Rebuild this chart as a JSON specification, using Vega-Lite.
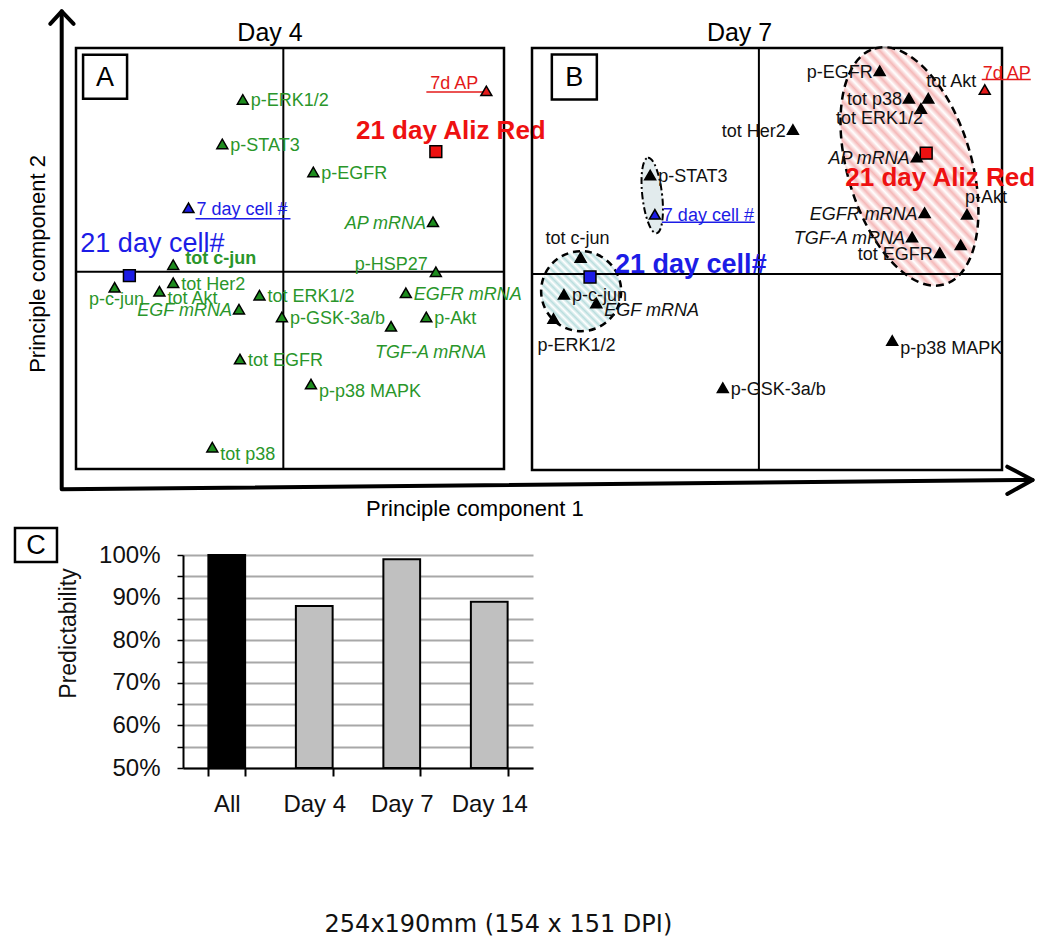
{
  "$schema": "https://vega.github.io/schema/vega-lite/v6.json",
  "background": "white",
  "padding": {"left": 9, "top": 8, "right": 5, "bottom": 5},
  "config": {"view": {"stroke": null}, "font": "Liberation Sans"},
  "title": {"text": "254x190mm (154 x 151 DPI)", "orient": "bottom", "anchor": "middle", "font": "DejaVu Sans", "fontSize": 24, "fontWeight": "normal", "color": "#111111", "offset": 97, "dx": -25},
  "datasets": {
    "day4": [
      {"label": "p-ERK1/2", "pc1": -0.85, "pc2": 2.21, "kind": "protein", "pos": "r"},
      {"label": "p-STAT3", "pc1": -1.28, "pc2": 1.64, "kind": "protein", "pos": "r"},
      {"label": "p-EGFR", "pc1": 0.63, "pc2": 1.28, "kind": "protein", "pos": "r"},
      {"label": "7 day cell #", "pc1": -1.99, "pc2": 0.82, "kind": "cell7", "pos": "r"},
      {"label": "AP mRNA", "pc1": 3.14, "pc2": 0.64, "kind": "mRNA", "pos": "l"},
      {"label": "7d AP", "pc1": 4.26, "pc2": 2.32, "kind": "ap7", "pos": "la"},
      {"label": "21 day Aliz Red", "pc1": 3.2, "pc2": 1.54, "kind": "aliz21", "pos": "big"},
      {"label": "21 day cell#", "pc1": -3.23, "pc2": -0.05, "kind": "cell21", "pos": "big"},
      {"label": "tot c-jun", "pc1": -2.31, "pc2": 0.09, "kind": "protein", "pos": "rb"},
      {"label": "tot Her2", "pc1": -2.31, "pc2": -0.14, "kind": "protein", "pos": "r"},
      {"label": "p-c-jun", "pc1": -3.54, "pc2": -0.2, "kind": "protein", "pos": "b"},
      {"label": "tot Akt", "pc1": -2.6, "pc2": -0.25, "kind": "protein", "pos": "br"},
      {"label": "EGF mRNA", "pc1": -0.93, "pc2": -0.48, "kind": "mRNA", "pos": "l"},
      {"label": "tot ERK1/2", "pc1": -0.5, "pc2": -0.3, "kind": "protein", "pos": "r"},
      {"label": "p-GSK-3a/b", "pc1": -0.03, "pc2": -0.58, "kind": "protein", "pos": "r"},
      {"label": "TGF-A mRNA", "pc1": 2.26, "pc2": -0.7, "kind": "mRNA", "pos": "bb"},
      {"label": "p-HSP27", "pc1": 3.2, "pc2": 0.0, "kind": "protein", "pos": "la"},
      {"label": "EGFR mRNA", "pc1": 2.57, "pc2": -0.27, "kind": "mRNA", "pos": "r"},
      {"label": "p-Akt", "pc1": 3.0, "pc2": -0.58, "kind": "protein", "pos": "r"},
      {"label": "tot EGFR", "pc1": -0.91, "pc2": -1.12, "kind": "protein", "pos": "r"},
      {"label": "p-p38 MAPK", "pc1": 0.58, "pc2": -1.44, "kind": "protein", "pos": "br"},
      {"label": "tot p38", "pc1": -1.49, "pc2": -2.25, "kind": "protein", "pos": "br"}
    ],
    "day7": [
      {"label": "p-EGFR", "pc1": 2.31, "pc2": 2.59, "kind": "protein", "pos": "l"},
      {"label": "7d AP", "pc1": 4.32, "pc2": 2.35, "kind": "ap7", "pos": "ar"},
      {"label": "tot Akt", "pc1": 3.24, "pc2": 2.24, "kind": "protein", "pos": "ar"},
      {"label": "tot p38", "pc1": 2.87, "pc2": 2.24, "kind": "protein", "pos": "l"},
      {"label": "tot ERK1/2", "pc1": 3.1, "pc2": 2.11, "kind": "protein", "pos": "bl"},
      {"label": "tot Her2", "pc1": 0.65, "pc2": 1.84, "kind": "protein", "pos": "l"},
      {"label": "AP mRNA", "pc1": 3.02, "pc2": 1.49, "kind": "mRNA", "pos": "l"},
      {"label": "21 day Aliz Red", "pc1": 3.2, "pc2": 1.54, "kind": "aliz21", "pos": "big"},
      {"label": "p-STAT3", "pc1": -2.08, "pc2": 1.26, "kind": "protein", "pos": "r"},
      {"label": "7 day cell #", "pc1": -1.99, "pc2": 0.76, "kind": "cell7", "pos": "r"},
      {"label": "p-Akt", "pc1": 3.98, "pc2": 0.76, "kind": "protein", "pos": "ar"},
      {"label": "EGFR mRNA", "pc1": 3.17, "pc2": 0.78, "kind": "mRNA", "pos": "l"},
      {"label": "TGF-A mRNA", "pc1": 2.93, "pc2": 0.47, "kind": "mRNA", "pos": "l"},
      {"label": "tot EGFR", "pc1": 3.46, "pc2": 0.27, "kind": "protein", "pos": "l"},
      {"label": "p-HSP27", "pc1": 3.86, "pc2": 0.37, "kind": "protein", "pos": "none"},
      {"label": "tot c-jun", "pc1": -3.41, "pc2": 0.21, "kind": "protein", "pos": "a"},
      {"label": "21 day cell#", "pc1": -3.23, "pc2": -0.04, "kind": "cell21", "pos": "big"},
      {"label": "p-c-jun", "pc1": -3.73, "pc2": -0.26, "kind": "protein", "pos": "r"},
      {"label": "EGF mRNA", "pc1": -3.11, "pc2": -0.37, "kind": "mRNA", "pos": "br"},
      {"label": "p-ERK1/2", "pc1": -3.93, "pc2": -0.57, "kind": "protein", "pos": "bb"},
      {"label": "p-p38 MAPK", "pc1": 2.55, "pc2": -0.85, "kind": "protein", "pos": "br"},
      {"label": "p-GSK-3a/b", "pc1": -0.69, "pc2": -1.45, "kind": "protein", "pos": "r"}
    ],
    "clusters7": [
      {"cluster": "late", "pc1": 2.88, "pc2": 1.37},
      {"cluster": "early", "pc1": -3.4, "pc2": -0.22},
      {"cluster": "stat", "pc1": -2.04, "pc2": 1.0}
    ],
    "annA": [
      {"item": "panel", "txt": "A", "pc1": -3.74, "pc2": 2.5},
      {"item": "title", "txt": "Day 4", "pc1": -0.28, "pc2": 2.96},
      {"item": "xtitle", "txt": "Principle component 1", "pc1": 4.02, "pc2": -3.04},
      {"item": "ytitle", "txt": "Principle component 2", "pc1": -5.14, "pc2": 0.1}
    ],
    "annB": [
      {"item": "panel", "txt": "B", "pc1": -3.53, "pc2": 2.51},
      {"item": "title", "txt": "Day 7", "pc1": -0.37, "pc2": 2.97}
    ],
    "annC": [
      {"item": "panel", "txt": "C", "u": -0.374, "p": 1.0235}
    ],
    "arrows": [
      {"part": "axes", "o": 1, "pc1": -4.65, "pc2": 3.34},
      {"part": "axes", "o": 2, "pc1": -4.65, "pc2": -2.79},
      {"part": "axes", "o": 3, "pc1": 15.72, "pc2": -2.67},
      {"part": "up", "o": 1, "pc1": -4.89, "pc2": 3.18},
      {"part": "up", "o": 2, "pc1": -4.65, "pc2": 3.34},
      {"part": "up", "o": 3, "pc1": -4.4, "pc2": 3.18},
      {"part": "right", "o": 1, "pc1": 15.19, "pc2": -2.5},
      {"part": "right", "o": 2, "pc1": 15.72, "pc2": -2.67},
      {"part": "right", "o": 3, "pc1": 15.19, "pc2": -2.85}
    ],
    "predict": [
      {"set": "All", "p": 1.0, "grp": "all"},
      {"set": "Day 4", "p": 0.88, "grp": "day"},
      {"set": "Day 7", "p": 0.99, "grp": "day"},
      {"set": "Day 14", "p": 0.89, "grp": "day"}
    ]
  },
  "bounds": "full",
  "spacing": 0,
  "vconcat": [
    {
      "bounds": "flush",
      "spacing": 28,
      "hconcat": [
        {
          "width": 428,
          "height": 421,
          "view": {"stroke": "black", "strokeWidth": 2.5},
          "layer": [
            {
              "data": {"values": [{"pc1": 0}]},
              "mark": {"type": "rule", "color": "black", "strokeWidth": 2},
              "encoding": {"x": {"field": "pc1", "type": "quantitative", "scale": {"domain": [-4.35, 4.63], "nice": false, "zero": false}, "axis": {"values": [-3, -2, -1, 1, 2, 3, 4], "grid": true, "gridColor": "#d9d9d9", "gridWidth": 2, "labels": false, "ticks": false, "domain": false, "title": null}}}
            },
            {
              "data": {"values": [{"pc2": 0}]},
              "mark": {"type": "rule", "color": "black", "strokeWidth": 2},
              "encoding": {"y": {"field": "pc2", "type": "quantitative", "scale": {"domain": [-2.53, 2.87], "nice": false, "zero": false}, "axis": {"values": [-2, -1, 1, 2], "grid": true, "gridColor": "#d9d9d9", "gridWidth": 2, "labels": false, "ticks": false, "domain": false, "title": null}}}
            },
            {
              "data": {"name": "arrows"},
              "mark": {"type": "line", "color": "black", "strokeWidth": 4, "strokeJoin": "round", "strokeCap": "round"},
              "encoding": {
                "x": {"field": "pc1", "type": "quantitative", "scale": {"domain": [-4.35, 4.63], "nice": false, "zero": false}, "axis": null},
                "y": {"field": "pc2", "type": "quantitative", "scale": {"domain": [-2.53, 2.87], "nice": false, "zero": false}, "axis": null},
                "detail": {"field": "part"},
                "order": {"field": "o"}
              }
            },
            {
              "data": {"name": "day4"},
              "transform": [{"filter": "datum.kind == 'cell7'"}],
              "mark": {"type": "rule", "color": "#1c1ce6", "strokeWidth": 1.5, "xOffset": 7, "x2Offset": 102, "yOffset": 11},
              "encoding": {
                "x": {"field": "pc1", "type": "quantitative", "scale": {"domain": [-4.35, 4.63], "nice": false, "zero": false}, "axis": null},
                "x2": {"field": "pc1"},
                "y": {"field": "pc2", "type": "quantitative", "scale": {"domain": [-2.53, 2.87], "nice": false, "zero": false}, "axis": null}
              }
            },
            {
              "data": {"name": "day4"},
              "transform": [{"filter": "datum.kind == 'ap7'"}],
              "mark": {"type": "rule", "color": "#e41a1a", "strokeWidth": 1.5, "xOffset": -60, "x2Offset": 0, "yOffset": 1},
              "encoding": {
                "x": {"field": "pc1", "type": "quantitative", "scale": {"domain": [-4.35, 4.63], "nice": false, "zero": false}, "axis": null},
                "x2": {"field": "pc1"},
                "y": {"field": "pc2", "type": "quantitative", "scale": {"domain": [-2.53, 2.87], "nice": false, "zero": false}, "axis": null}
              }
            },
            {
              "data": {"name": "day4"},
              "transform": [{"filter": "datum.kind != 'cell21' && datum.kind != 'aliz21'"}],
              "mark": {"type": "point", "shape": "triangle-up", "filled": true, "size": 120, "opacity": 1, "stroke": "black", "strokeWidth": 1.5, "fill": {"expr": "datum.kind == 'cell7' ? '#1c1ce6' : datum.kind == 'ap7' ? '#e41a1a' : '#1e8c1e'"}},
              "encoding": {
                "x": {"field": "pc1", "type": "quantitative", "scale": {"domain": [-4.35, 4.63], "nice": false, "zero": false}, "axis": null},
                "y": {"field": "pc2", "type": "quantitative", "scale": {"domain": [-2.53, 2.87], "nice": false, "zero": false}, "axis": null}
              }
            },
            {
              "data": {"name": "day4"},
              "transform": [{"filter": "datum.kind == 'cell21' || datum.kind == 'aliz21'"}],
              "mark": {"type": "point", "shape": "square", "filled": true, "size": 140, "opacity": 1, "stroke": "black", "strokeWidth": 1.5, "fill": {"expr": "datum.kind == 'cell21' ? '#1c1ce6' : '#ee1111'"}},
              "encoding": {
                "x": {"field": "pc1", "type": "quantitative", "scale": {"domain": [-4.35, 4.63], "nice": false, "zero": false}, "axis": null},
                "y": {"field": "pc2", "type": "quantitative", "scale": {"domain": [-2.53, 2.87], "nice": false, "zero": false}, "axis": null}
              }
            },
            {
              "data": {"name": "day4"},
              "transform": [{"filter": "datum.pos != 'big' && datum.pos != 'none'"}],
              "mark": {
                "type": "text", "fontSize": 18, "baseline": "alphabetic",
                "align": {"expr": "(datum.pos == 'l' || datum.pos == 'la' || datum.pos == 'bl') ? 'right' : (datum.pos == 'b' || datum.pos == 'a') ? 'center' : 'left'"},
                "dx": {"expr": "datum.pos == 'l' ? -7 : datum.pos == 'la' ? -8 : datum.pos == 'bl' ? 2 : datum.pos == 'b' ? 2 : datum.pos == 'bb' ? -16 : datum.pos == 'a' ? -3 : datum.pos == 'ar' ? -2 : datum.pos == 'rb' ? 12 : 8"},
                "dy": {"expr": "datum.pos == 'l' ? 7 : datum.pos == 'la' ? -2 : datum.pos == 'bl' ? 16 : datum.pos == 'b' ? 18 : datum.pos == 'bb' ? 32 : datum.pos == 'a' ? -13 : datum.pos == 'ar' ? -11 : datum.pos == 'rb' ? -1 : datum.pos == 'br' ? 13 : 7"},
                "fontStyle": {"expr": "datum.kind == 'mRNA' ? 'italic' : 'normal'"},
                "fontWeight": {"expr": "datum.pos == 'rb' ? 'bold' : 'normal'"},
                "fill": {"expr": "datum.kind == 'cell7' ? '#1c1ce6' : datum.kind == 'ap7' ? '#e41a1a' : '#2a962a'"}
              },
              "encoding": {
                "x": {"field": "pc1", "type": "quantitative", "scale": {"domain": [-4.35, 4.63], "nice": false, "zero": false}, "axis": null},
                "y": {"field": "pc2", "type": "quantitative", "scale": {"domain": [-2.53, 2.87], "nice": false, "zero": false}, "axis": null},
                "text": {"field": "label"}
              }
            },
            {
              "data": {"name": "day4"},
              "transform": [{"filter": "datum.kind == 'cell21'"}],
              "mark": {"type": "text", "fontSize": 27, "baseline": "alphabetic", "align": "center", "dx": 23, "dy": -24, "fill": "#1c1ce6"},
              "encoding": {
                "x": {"field": "pc1", "type": "quantitative", "scale": {"domain": [-4.35, 4.63], "nice": false, "zero": false}, "axis": null},
                "y": {"field": "pc2", "type": "quantitative", "scale": {"domain": [-2.53, 2.87], "nice": false, "zero": false}, "axis": null},
                "text": {"field": "label"}
              }
            },
            {
              "data": {"name": "day4"},
              "transform": [{"filter": "datum.kind == 'aliz21'"}],
              "mark": {"type": "text", "fontSize": 26, "fontWeight": "bold", "baseline": "alphabetic", "align": "center", "dx": 15, "dy": -13, "fill": "#ee1111"},
              "encoding": {
                "x": {"field": "pc1", "type": "quantitative", "scale": {"domain": [-4.35, 4.63], "nice": false, "zero": false}, "axis": null},
                "y": {"field": "pc2", "type": "quantitative", "scale": {"domain": [-2.53, 2.87], "nice": false, "zero": false}, "axis": null},
                "text": {"field": "label"}
              }
            },
            {
              "data": {"name": "annA"},
              "transform": [{"filter": "datum.item == 'panel'"}],
              "mark": {"type": "point", "shape": "square", "size": 1936, "filled": true, "fill": "white", "opacity": 1, "stroke": "black", "strokeWidth": 2.5},
              "encoding": {
                "x": {"field": "pc1", "type": "quantitative", "scale": {"domain": [-4.35, 4.63], "nice": false, "zero": false}, "axis": null},
                "y": {"field": "pc2", "type": "quantitative", "scale": {"domain": [-2.53, 2.87], "nice": false, "zero": false}, "axis": null}
              }
            },
            {
              "data": {"name": "annA"},
              "transform": [{"filter": "datum.item == 'panel'"}],
              "mark": {"type": "text", "fontSize": 27, "baseline": "middle", "align": "center", "dy": 1, "fill": "black"},
              "encoding": {
                "x": {"field": "pc1", "type": "quantitative", "scale": {"domain": [-4.35, 4.63], "nice": false, "zero": false}, "axis": null},
                "y": {"field": "pc2", "type": "quantitative", "scale": {"domain": [-2.53, 2.87], "nice": false, "zero": false}, "axis": null},
                "text": {"field": "txt"}
              }
            },
            {
              "data": {"name": "annA"},
              "transform": [{"filter": "datum.item == 'title'"}],
              "mark": {"type": "text", "fontSize": 25, "baseline": "alphabetic", "align": "center", "fill": "black"},
              "encoding": {
                "x": {"field": "pc1", "type": "quantitative", "scale": {"domain": [-4.35, 4.63], "nice": false, "zero": false}, "axis": null},
                "y": {"field": "pc2", "type": "quantitative", "scale": {"domain": [-2.53, 2.87], "nice": false, "zero": false}, "axis": null},
                "text": {"field": "txt"}
              }
            },
            {
              "data": {"name": "annA"},
              "transform": [{"filter": "datum.item == 'xtitle' || datum.item == 'ytitle'"}],
              "mark": {"type": "text", "fontSize": 22, "baseline": "middle", "align": "center", "fill": "black", "angle": {"expr": "datum.item == 'ytitle' ? 270 : 0"}},
              "encoding": {
                "x": {"field": "pc1", "type": "quantitative", "scale": {"domain": [-4.35, 4.63], "nice": false, "zero": false}, "axis": null},
                "y": {"field": "pc2", "type": "quantitative", "scale": {"domain": [-2.53, 2.87], "nice": false, "zero": false}, "axis": null},
                "text": {"field": "txt"}
              }
            }
          ]
        },
        {
          "width": 470,
          "height": 422,
          "view": {"stroke": "black", "strokeWidth": 2.5},
          "layer": [
            {
              "data": {"name": "clusters7"},
              "transform": [{"filter": "datum.cluster == 'late'"}],
              "mark": {
                "type": "point", "shape": "M0,-1A0.504,1,0,1,1,0,1A0.504,1,0,1,1,0,-1Z", "size": 60516, "angle": 343.5, "filled": true, "opacity": 1, "fillOpacity": 0.8,
                "stroke": "black", "strokeWidth": 2.5, "strokeDash": [8, 5],
                "fill": {"gradient": "linear", "x1": 0, "y1": 1, "x2": 1, "y2": 0, "stops": [
                  {"offset": 0, "color": "#f2a7a7"}, {"offset": 0.02, "color": "#ffffff"}, {"offset": 0.04, "color": "#f2a7a7"}, {"offset": 0.06, "color": "#ffffff"},
                  {"offset": 0.08, "color": "#f2a7a7"}, {"offset": 0.1, "color": "#ffffff"}, {"offset": 0.12, "color": "#f2a7a7"}, {"offset": 0.14, "color": "#ffffff"},
                  {"offset": 0.16, "color": "#f2a7a7"}, {"offset": 0.18, "color": "#ffffff"}, {"offset": 0.2, "color": "#f2a7a7"}, {"offset": 0.22, "color": "#ffffff"},
                  {"offset": 0.24, "color": "#f2a7a7"}, {"offset": 0.26, "color": "#ffffff"}, {"offset": 0.28, "color": "#f2a7a7"}, {"offset": 0.3, "color": "#ffffff"},
                  {"offset": 0.32, "color": "#f2a7a7"}, {"offset": 0.34, "color": "#ffffff"}, {"offset": 0.36, "color": "#f2a7a7"}, {"offset": 0.38, "color": "#ffffff"},
                  {"offset": 0.4, "color": "#f2a7a7"}, {"offset": 0.42, "color": "#ffffff"}, {"offset": 0.44, "color": "#f2a7a7"}, {"offset": 0.46, "color": "#ffffff"},
                  {"offset": 0.48, "color": "#f2a7a7"}, {"offset": 0.5, "color": "#ffffff"}, {"offset": 0.52, "color": "#f2a7a7"}, {"offset": 0.54, "color": "#ffffff"},
                  {"offset": 0.56, "color": "#f2a7a7"}, {"offset": 0.58, "color": "#ffffff"}, {"offset": 0.6, "color": "#f2a7a7"}, {"offset": 0.62, "color": "#ffffff"},
                  {"offset": 0.64, "color": "#f2a7a7"}, {"offset": 0.66, "color": "#ffffff"}, {"offset": 0.68, "color": "#f2a7a7"}, {"offset": 0.7, "color": "#ffffff"},
                  {"offset": 0.72, "color": "#f2a7a7"}, {"offset": 0.74, "color": "#ffffff"}, {"offset": 0.76, "color": "#f2a7a7"}, {"offset": 0.78, "color": "#ffffff"},
                  {"offset": 0.8, "color": "#f2a7a7"}, {"offset": 0.82, "color": "#ffffff"}, {"offset": 0.84, "color": "#f2a7a7"}, {"offset": 0.86, "color": "#ffffff"},
                  {"offset": 0.88, "color": "#f2a7a7"}, {"offset": 0.9, "color": "#ffffff"}, {"offset": 0.92, "color": "#f2a7a7"}, {"offset": 0.94, "color": "#ffffff"},
                  {"offset": 0.96, "color": "#f2a7a7"}, {"offset": 0.98, "color": "#ffffff"}, {"offset": 1, "color": "#f2a7a7"}
                ]}
              },
              "encoding": {
                "x": {"field": "pc1", "type": "quantitative", "scale": {"domain": [-4.34, 4.65], "nice": false, "zero": false}, "axis": {"values": [-4, -3, -2, -1, 1, 2, 3, 4], "grid": true, "gridColor": "#d9d9d9", "gridWidth": 2, "labels": false, "ticks": false, "domain": false, "title": null}},
                "y": {"field": "pc2", "type": "quantitative", "scale": {"domain": [-2.5, 2.88], "nice": false, "zero": false}, "axis": {"values": [-2, -1, 1, 2], "grid": true, "gridColor": "#d9d9d9", "gridWidth": 2, "labels": false, "ticks": false, "domain": false, "title": null}}
              }
            },
            {
              "data": {"name": "clusters7"},
              "transform": [{"filter": "datum.cluster == 'early'"}],
              "mark": {
                "type": "point", "shape": "circle", "size": 6400, "filled": true, "opacity": 1, "fillOpacity": 0.8,
                "stroke": "black", "strokeWidth": 2.5, "strokeDash": [7, 5],
                "fill": {"gradient": "linear", "x1": 0, "y1": 1, "x2": 1, "y2": 0, "stops": [
                  {"offset": 0, "color": "#a9d6d6"}, {"offset": 0.025, "color": "#ffffff"}, {"offset": 0.05, "color": "#a9d6d6"}, {"offset": 0.075, "color": "#ffffff"},
                  {"offset": 0.1, "color": "#a9d6d6"}, {"offset": 0.125, "color": "#ffffff"}, {"offset": 0.15, "color": "#a9d6d6"}, {"offset": 0.175, "color": "#ffffff"},
                  {"offset": 0.2, "color": "#a9d6d6"}, {"offset": 0.225, "color": "#ffffff"}, {"offset": 0.25, "color": "#a9d6d6"}, {"offset": 0.275, "color": "#ffffff"},
                  {"offset": 0.3, "color": "#a9d6d6"}, {"offset": 0.325, "color": "#ffffff"}, {"offset": 0.35, "color": "#a9d6d6"}, {"offset": 0.375, "color": "#ffffff"},
                  {"offset": 0.4, "color": "#a9d6d6"}, {"offset": 0.425, "color": "#ffffff"}, {"offset": 0.45, "color": "#a9d6d6"}, {"offset": 0.475, "color": "#ffffff"},
                  {"offset": 0.5, "color": "#a9d6d6"}, {"offset": 0.525, "color": "#ffffff"}, {"offset": 0.55, "color": "#a9d6d6"}, {"offset": 0.575, "color": "#ffffff"},
                  {"offset": 0.6, "color": "#a9d6d6"}, {"offset": 0.625, "color": "#ffffff"}, {"offset": 0.65, "color": "#a9d6d6"}, {"offset": 0.675, "color": "#ffffff"},
                  {"offset": 0.7, "color": "#a9d6d6"}, {"offset": 0.725, "color": "#ffffff"}, {"offset": 0.75, "color": "#a9d6d6"}, {"offset": 0.775, "color": "#ffffff"},
                  {"offset": 0.8, "color": "#a9d6d6"}, {"offset": 0.825, "color": "#ffffff"}, {"offset": 0.85, "color": "#a9d6d6"}, {"offset": 0.875, "color": "#ffffff"},
                  {"offset": 0.9, "color": "#a9d6d6"}, {"offset": 0.925, "color": "#ffffff"}, {"offset": 0.95, "color": "#a9d6d6"}, {"offset": 0.975, "color": "#ffffff"},
                  {"offset": 1, "color": "#a9d6d6"}
                ]}
              },
              "encoding": {
                "x": {"field": "pc1", "type": "quantitative", "scale": {"domain": [-4.34, 4.65], "nice": false, "zero": false}, "axis": null},
                "y": {"field": "pc2", "type": "quantitative", "scale": {"domain": [-2.5, 2.88], "nice": false, "zero": false}, "axis": null}
              }
            },
            {
              "data": {"name": "clusters7"},
              "transform": [{"filter": "datum.cluster == 'stat'"}],
              "mark": {"type": "point", "shape": "M0,-1A0.26,1,0,1,1,0,1A0.26,1,0,1,1,0,-1Z", "size": 5776, "angle": 353.5, "filled": true, "opacity": 1, "fill": "#e2ebed", "stroke": "black", "strokeWidth": 2, "strokeDash": [7, 3, 2, 3]},
              "encoding": {
                "x": {"field": "pc1", "type": "quantitative", "scale": {"domain": [-4.34, 4.65], "nice": false, "zero": false}, "axis": null},
                "y": {"field": "pc2", "type": "quantitative", "scale": {"domain": [-2.5, 2.88], "nice": false, "zero": false}, "axis": null}
              }
            },
            {
              "data": {"values": [{"pc1": 0}]},
              "mark": {"type": "rule", "color": "black", "strokeWidth": 2},
              "encoding": {"x": {"field": "pc1", "type": "quantitative", "scale": {"domain": [-4.34, 4.65], "nice": false, "zero": false}, "axis": null}}
            },
            {
              "data": {"values": [{"pc2": 0}]},
              "mark": {"type": "rule", "color": "black", "strokeWidth": 2},
              "encoding": {"y": {"field": "pc2", "type": "quantitative", "scale": {"domain": [-2.5, 2.88], "nice": false, "zero": false}, "axis": null}}
            },
            {
              "data": {"name": "day7"},
              "transform": [{"filter": "datum.kind == 'cell7'"}],
              "mark": {"type": "rule", "color": "#1c1ce6", "strokeWidth": 1.5, "xOffset": 7, "x2Offset": 100, "yOffset": 8},
              "encoding": {
                "x": {"field": "pc1", "type": "quantitative", "scale": {"domain": [-4.34, 4.65], "nice": false, "zero": false}, "axis": null},
                "x2": {"field": "pc1"},
                "y": {"field": "pc2", "type": "quantitative", "scale": {"domain": [-2.5, 2.88], "nice": false, "zero": false}, "axis": null}
              }
            },
            {
              "data": {"name": "day7"},
              "transform": [{"filter": "datum.kind == 'ap7'"}],
              "mark": {"type": "rule", "color": "#e41a1a", "strokeWidth": 1.5, "xOffset": -3, "x2Offset": 46, "yOffset": -10},
              "encoding": {
                "x": {"field": "pc1", "type": "quantitative", "scale": {"domain": [-4.34, 4.65], "nice": false, "zero": false}, "axis": null},
                "x2": {"field": "pc1"},
                "y": {"field": "pc2", "type": "quantitative", "scale": {"domain": [-2.5, 2.88], "nice": false, "zero": false}, "axis": null}
              }
            },
            {
              "data": {"name": "day7"},
              "transform": [{"filter": "datum.kind != 'cell21' && datum.kind != 'aliz21'"}],
              "mark": {"type": "point", "shape": "triangle-up", "filled": true, "size": 120, "opacity": 1, "stroke": "black", "strokeWidth": 1.5, "fill": {"expr": "datum.kind == 'cell7' ? '#1c1ce6' : datum.kind == 'ap7' ? '#e41a1a' : '#000000'"}},
              "encoding": {
                "x": {"field": "pc1", "type": "quantitative", "scale": {"domain": [-4.34, 4.65], "nice": false, "zero": false}, "axis": null},
                "y": {"field": "pc2", "type": "quantitative", "scale": {"domain": [-2.5, 2.88], "nice": false, "zero": false}, "axis": null}
              }
            },
            {
              "data": {"name": "day7"},
              "transform": [{"filter": "datum.kind == 'cell21' || datum.kind == 'aliz21'"}],
              "mark": {"type": "point", "shape": "square", "filled": true, "size": 140, "opacity": 1, "stroke": "black", "strokeWidth": 1.5, "fill": {"expr": "datum.kind == 'cell21' ? '#1c1ce6' : '#ee1111'"}},
              "encoding": {
                "x": {"field": "pc1", "type": "quantitative", "scale": {"domain": [-4.34, 4.65], "nice": false, "zero": false}, "axis": null},
                "y": {"field": "pc2", "type": "quantitative", "scale": {"domain": [-2.5, 2.88], "nice": false, "zero": false}, "axis": null}
              }
            },
            {
              "data": {"name": "day7"},
              "transform": [{"filter": "datum.pos != 'big' && datum.pos != 'none'"}],
              "mark": {
                "type": "text", "fontSize": 18, "baseline": "alphabetic",
                "align": {"expr": "(datum.pos == 'l' || datum.pos == 'la' || datum.pos == 'bl') ? 'right' : (datum.pos == 'b' || datum.pos == 'a') ? 'center' : 'left'"},
                "dx": {"expr": "datum.pos == 'l' ? -7 : datum.pos == 'la' ? -8 : datum.pos == 'bl' ? 2 : datum.pos == 'b' ? 2 : datum.pos == 'bb' ? -16 : datum.pos == 'a' ? -3 : datum.pos == 'ar' ? -2 : datum.pos == 'rb' ? 12 : 8"},
                "dy": {"expr": "datum.pos == 'l' ? 7 : datum.pos == 'la' ? -2 : datum.pos == 'bl' ? 16 : datum.pos == 'b' ? 18 : datum.pos == 'bb' ? 32 : datum.pos == 'a' ? -13 : datum.pos == 'ar' ? -11 : datum.pos == 'rb' ? -1 : datum.pos == 'br' ? 13 : 7"},
                "fontStyle": {"expr": "datum.kind == 'mRNA' ? 'italic' : 'normal'"},
                "fill": {"expr": "datum.kind == 'cell7' ? '#1c1ce6' : datum.kind == 'ap7' ? '#e41a1a' : '#111111'"}
              },
              "encoding": {
                "x": {"field": "pc1", "type": "quantitative", "scale": {"domain": [-4.34, 4.65], "nice": false, "zero": false}, "axis": null},
                "y": {"field": "pc2", "type": "quantitative", "scale": {"domain": [-2.5, 2.88], "nice": false, "zero": false}, "axis": null},
                "text": {"field": "label"}
              }
            },
            {
              "data": {"name": "day7"},
              "transform": [{"filter": "datum.kind == 'cell21'"}],
              "mark": {"type": "text", "fontSize": 27, "fontWeight": "bold", "baseline": "alphabetic", "align": "left", "dx": 25, "dy": -4, "fill": "#1c1ce6"},
              "encoding": {
                "x": {"field": "pc1", "type": "quantitative", "scale": {"domain": [-4.34, 4.65], "nice": false, "zero": false}, "axis": null},
                "y": {"field": "pc2", "type": "quantitative", "scale": {"domain": [-2.5, 2.88], "nice": false, "zero": false}, "axis": null},
                "text": {"field": "label"}
              }
            },
            {
              "data": {"name": "day7"},
              "transform": [{"filter": "datum.kind == 'aliz21'"}],
              "mark": {"type": "text", "fontSize": 26, "fontWeight": "bold", "baseline": "alphabetic", "align": "center", "dx": 14, "dy": 33, "fill": "#ee1111"},
              "encoding": {
                "x": {"field": "pc1", "type": "quantitative", "scale": {"domain": [-4.34, 4.65], "nice": false, "zero": false}, "axis": null},
                "y": {"field": "pc2", "type": "quantitative", "scale": {"domain": [-2.5, 2.88], "nice": false, "zero": false}, "axis": null},
                "text": {"field": "label"}
              }
            },
            {
              "data": {"name": "annB"},
              "transform": [{"filter": "datum.item == 'panel'"}],
              "mark": {"type": "point", "shape": "square", "size": 2025, "filled": true, "fill": "white", "opacity": 1, "stroke": "black", "strokeWidth": 2.5},
              "encoding": {
                "x": {"field": "pc1", "type": "quantitative", "scale": {"domain": [-4.34, 4.65], "nice": false, "zero": false}, "axis": null},
                "y": {"field": "pc2", "type": "quantitative", "scale": {"domain": [-2.5, 2.88], "nice": false, "zero": false}, "axis": null}
              }
            },
            {
              "data": {"name": "annB"},
              "transform": [{"filter": "datum.item == 'panel'"}],
              "mark": {"type": "text", "fontSize": 27, "baseline": "middle", "align": "center", "dy": 1, "fill": "black"},
              "encoding": {
                "x": {"field": "pc1", "type": "quantitative", "scale": {"domain": [-4.34, 4.65], "nice": false, "zero": false}, "axis": null},
                "y": {"field": "pc2", "type": "quantitative", "scale": {"domain": [-2.5, 2.88], "nice": false, "zero": false}, "axis": null},
                "text": {"field": "txt"}
              }
            },
            {
              "data": {"name": "annB"},
              "transform": [{"filter": "datum.item == 'title'"}],
              "mark": {"type": "text", "fontSize": 25, "baseline": "alphabetic", "align": "center", "fill": "black"},
              "encoding": {
                "x": {"field": "pc1", "type": "quantitative", "scale": {"domain": [-4.34, 4.65], "nice": false, "zero": false}, "axis": null},
                "y": {"field": "pc2", "type": "quantitative", "scale": {"domain": [-2.5, 2.88], "nice": false, "zero": false}, "axis": null},
                "text": {"field": "txt"}
              }
            }
          ]
        }
      ]
    },
    {
      "bounds": "flush",
      "spacing": 0,
      "hconcat": [
        {
          "width": 107,
          "height": 213,
          "data": {"name": "annC"},
          "layer": [
            {
              "mark": {"type": "point", "shape": "M-1,-0.81H1V0.81H-1Z", "size": 1764, "filled": true, "fill": "white", "opacity": 1, "stroke": "black", "strokeWidth": 2.5},
              "encoding": {
                "x": {"field": "u", "type": "quantitative", "scale": {"domain": [0, 1], "nice": false, "zero": false}, "axis": null},
                "y": {"field": "p", "type": "quantitative", "scale": {"domain": [0.5, 1], "nice": false, "zero": false}, "axis": null}
              }
            },
            {
              "mark": {"type": "text", "fontSize": 27, "baseline": "middle", "align": "center", "dy": 1, "fill": "black"},
              "encoding": {
                "x": {"field": "u", "type": "quantitative", "scale": {"domain": [0, 1], "nice": false, "zero": false}, "axis": null},
                "y": {"field": "p", "type": "quantitative", "scale": {"domain": [0.5, 1], "nice": false, "zero": false}, "axis": null},
                "text": {"field": "txt"}
              }
            }
          ]
        },
        {
          "width": 350,
          "height": 213,
          "data": {"name": "predict"},
          "mark": {"type": "bar", "stroke": "black", "strokeWidth": 2},
          "encoding": {
            "x": {
              "field": "set", "type": "nominal", "sort": null,
              "scale": {"paddingInner": 0.58, "paddingOuter": 0.29},
              "axis": {"title": null, "labelAngle": 0, "labelFontSize": 24, "labelColor": "#111111", "labelPadding": 16, "tickBand": "extent", "tickSize": 8, "tickWidth": 2, "tickColor": "black", "domainWidth": 2, "domainColor": "black"}
            },
            "y": {
              "field": "p", "type": "quantitative",
              "scale": {"domain": [0.5, 1], "nice": false, "zero": false},
              "axis": {
                "title": "Predictability", "titleFontSize": 23, "titleFontWeight": "normal", "titleColor": "#111111", "titlePadding": 18, "titleY": 78,
                "values": [0.5, 0.55, 0.6, 0.65, 0.7, 0.75, 0.8, 0.85, 0.9, 0.95, 1.0],
                "format": ".0%", "labelExpr": "round(datum.value * 100) % 10 == 0 ? datum.label : ''",
                "labelFontSize": 24, "labelColor": "#111111", "labelPadding": 17,
                "grid": true, "gridColor": "#a8a8a8", "gridWidth": 2,
                "tickSize": 6, "tickWidth": 1.5, "tickColor": "black", "domainWidth": 2, "domainColor": "black"
              }
            },
            "y2": {"datum": 0.5},
            "color": {"field": "grp", "type": "nominal", "scale": {"domain": ["all", "day"], "range": ["#000000", "#c0c0c0"]}, "legend": null}
          }
        }
      ]
    }
  ]
}
